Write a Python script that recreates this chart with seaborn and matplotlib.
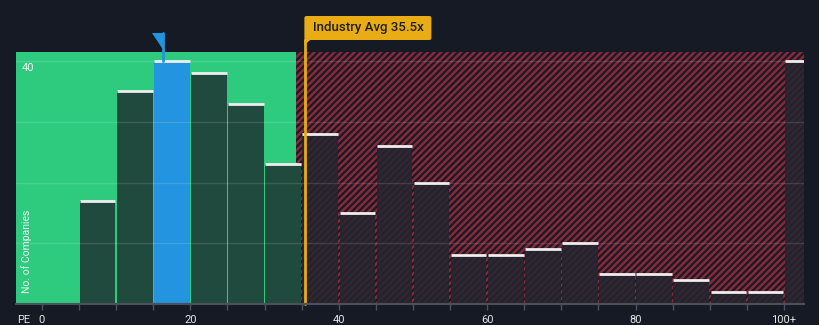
import matplotlib
matplotlib.use("Agg")
import matplotlib.pyplot as plt
import matplotlib.transforms as mtransforms
from matplotlib.patches import Polygon, FancyBboxPatch
import seaborn as sns

# PE histogram: bins of width 5 starting at 5, last bin is "100+"
bin_edges = [5, 10, 15, 20, 25, 30, 35, 40, 45, 50, 55, 60, 65, 70, 75, 80, 85, 90, 95, 100, 105]
bin_starts = bin_edges[:-1]
counts = [17, 35, 40, 38, 33, 23, 28, 15, 26, 20, 8, 8, 9, 10, 5, 5, 4, 2, 2, 40]

tick_values = [0, 20, 40, 60, 80, 100]
tick_labels = ["0", "20", "40", "60", "80", "100+"]

company_pe = 16.3
company_bin = 15
fair_pe = 34.2
industry_avg = 35.5
y_marker = 40

BG = "#151a24"
GREEN = "#2ecb7f"
DARK_GREEN = "#214a3e"
BLUE = "#2394df"
RED = "#88293a"
DARK_BAR = "#24252f"
ORANGE = "#e9ac14"
AXIS = "#4b505b"

W, H = 820, 325
sns.set_theme(style="dark")
plt.rcParams["font.family"] = ["Roboto", "DejaVu Sans"]
plt.rcParams["hatch.linewidth"] = 1.8

fig = plt.figure(figsize=(W / 100, H / 100), dpi=100, facecolor=BG)
ax = fig.add_axes([16 / W, 21 / H, 788 / W, 252 / H])
ax.set_facecolor(BG)
x_lo, x_hi = -3.5, 102.7
ax.set_xlim(x_lo, x_hi)
ax.set_ylim(0, 41.5)

# background zones
ax.axvspan(x_lo, fair_pe, facecolor=GREEN, lw=0, zorder=0)
ax.axvspan(fair_pe, x_hi, facecolor=BG, edgecolor=RED, hatch="/////", lw=0, zorder=0)

n_before = len(ax.patches)
sns.histplot(x=bin_starts, weights=counts, bins=bin_edges, shrink=0.96,
             ax=ax, linewidth=0, zorder=2, legend=False)
bars = ax.patches[n_before:]
for b in bars:
    start = b.get_x() + b.get_width() / 2 - 2.5
    if abs(start - company_bin) < 0.1:
        b.set_facecolor(BLUE)
        b.set_alpha(1)
    elif start < fair_pe:
        b.set_facecolor(DARK_GREEN)
        b.set_alpha(1)
    else:
        b.set_facecolor(DARK_BAR)
        b.set_alpha(0.88)
    ax.hlines(b.get_height(), b.get_x(), b.get_x() + b.get_width(),
              color="#eeeeee", lw=2, zorder=4)

for y in [10, 20, 30, 40]:
    ax.axhline(y, color="white", alpha=0.12, lw=1, zorder=3)

for side in ["top", "right", "left"]:
    ax.spines[side].set_visible(False)
ax.spines["bottom"].set_color(AXIS)
ax.spines["bottom"].set_linewidth(1.5)
ax.spines["bottom"].set_zorder(6)

ax.set_yticks([])
ax.set_xticks(range(0, 101, 5))
ax.set_xticklabels([tick_labels[tick_values.index(v)] if v in tick_values else ""
                    for v in range(0, 101, 5)])
ax.tick_params(axis="x", colors=AXIS, length=4, width=1, pad=4,
               labelsize=8, labelcolor="#e6e6e6", direction="out", bottom=True)
ax.set_xlabel("")
ax.set_ylabel("")

ax.text((23.5 - 16) / 788, -16 / 252, "PE", transform=ax.transAxes,
        ha="center", va="center", fontsize=8, color="#e6e6e6")
ax.text(11 / 788, 0.21, "No. of Companies", transform=ax.transAxes,
        rotation=90, ha="center", va="center", fontsize=7.5, color="#f0f0f0")
ax.annotate(str(y_marker), xy=(0, y_marker), xycoords=("axes fraction", "data"),
            xytext=(4.5, -5), textcoords="offset points",
            ha="left", va="center", fontsize=8, color="#f0f0f0")

px = mtransforms.IdentityTransform()
top_px = ax.transAxes.transform((0, 1))[1]

# industry average marker
xi = ax.transData.transform((industry_avg, 0))[0]
ax.axvline(industry_avg, ymin=0, ymax=1 + 12 / 252, color=ORANGE, lw=2,
           clip_on=False, zorder=5)
box_bottom = top_px + 12
fig.patches.append(FancyBboxPatch((xi - 1, box_bottom), 127, 24,
                                  boxstyle="round,pad=0,rounding_size=2",
                                  fc=ORANGE, ec="none", transform=px, figure=fig))
fig.patches.append(Polygon([(xi - 1, box_bottom + 1), (xi + 6, box_bottom + 1),
                            (xi - 1, box_bottom - 5)], closed=True,
                           fc=ORANGE, ec="none", transform=px, figure=fig))
fig.text((xi - 1 + 63.5) / W, (box_bottom + 12) / H, f"Industry Avg {industry_avg}x",
         ha="center", va="center", fontsize=9.5, color="#1e1e22", weight="medium")

# company marker flag
xc = ax.transData.transform((company_pe, 0))[0]
ax.plot([company_pe, company_pe], [y_marker, 41.5 + 19 / 6.07], color=BLUE,
        lw=2, clip_on=False, zorder=5)
fig.patches.append(Polygon([(xc - 11, top_px + 19), (xc + 1, top_px + 19),
                            (xc + 1, top_px + 1)], closed=True,
                           fc=BLUE, ec="none", transform=px, figure=fig))

fig.savefig("out.png", dpi=100, facecolor=BG)
